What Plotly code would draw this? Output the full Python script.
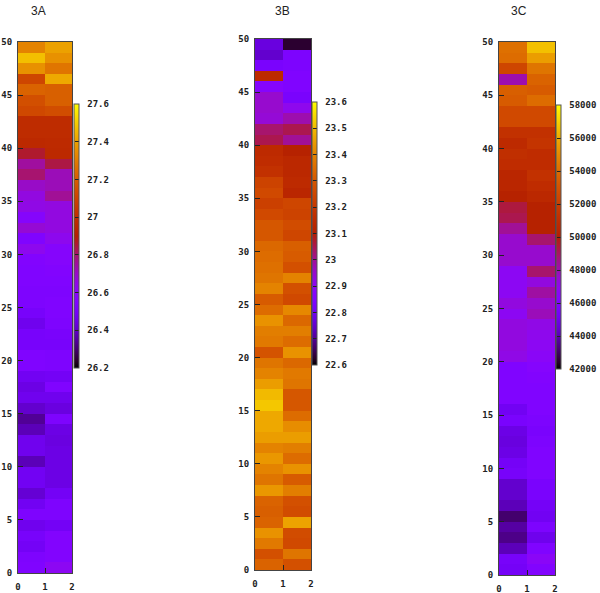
import math
import plotly.graph_objects as go

# rows listed from top (49-50) to bottom (0-1)
a_col0 = [27.32,27.47,27.36,27.11,27.22,27.15,27.12,26.98,26.98,26.96,26.86,26.75,26.80,26.70,26.66,26.65,26.58,26.68,26.55,26.63,26.56,26.55,26.55,26.54,26.54,
          26.51,26.47,26.51,26.51,26.55,26.55,26.48,26.45,26.47,26.41,26.34,26.38,26.47,26.47,26.38,26.48,26.48,26.42,26.48,26.54,26.47,26.51,26.49,26.54,26.55]
a_col1 = [27.40,27.36,27.28,27.42,27.21,27.21,27.14,26.98,26.98,26.97,26.96,26.84,26.72,26.72,26.76,26.66,26.66,26.66,26.63,26.58,26.58,26.56,26.55,26.54,26.55,
          26.55,26.54,26.52,26.51,26.54,26.54,26.49,26.55,26.47,26.44,26.54,26.45,26.44,26.45,26.45,26.45,26.45,26.49,26.54,26.54,26.49,26.56,26.56,26.56,26.62]
b_col0 = [22.77,22.75,22.83,23.15,22.87,22.95,22.95,22.94,23.03,23.05,23.15,23.16,23.18,23.24,23.26,23.23,23.26,23.30,23.30,23.34,23.35,23.36,23.37,23.40,23.31,
          23.35,23.43,23.39,23.38,23.29,23.37,23.40,23.45,23.50,23.52,23.47,23.47,23.45,23.40,23.44,23.40,23.37,23.44,23.33,23.32,23.33,23.43,23.38,23.28,23.33]
b_col1 = [22.63,22.84,22.84,22.85,22.85,22.83,22.91,22.98,23.05,23.00,23.11,23.14,23.14,23.15,23.13,23.25,23.24,23.27,23.25,23.32,23.31,23.28,23.40,23.28,23.26,
          23.41,23.34,23.39,23.35,23.43,23.34,23.38,23.37,23.30,23.30,23.35,23.42,23.45,23.39,23.35,23.43,23.31,23.39,23.28,23.27,23.46,23.27,23.26,23.37,23.28]
c_col0 = [54160,54000,52400,48080,53520,53360,52560,52560,51280,50800,51120,50960,50480,50480,50160,49360,49200,48400,47600,47600,47600,46800,46800,46800,47280,
          46800,47280,47280,47280,47120,46000,46000,46000,46000,45200,45680,44880,44720,44880,45360,45520,44400,44400,44080,43120,43760,43440,44080,45520,45360]
c_col1 = [56560,55600,54320,53680,53360,54000,52560,52560,51280,51440,50960,50960,51280,50960,50640,50160,50160,50160,48880,47600,47600,48880,47280,48240,47600,
          47920,47120,46960,46800,46640,46320,46160,46000,46000,46000,45840,45680,45840,46000,46000,46000,45680,45680,45360,45200,45840,45040,46000,46640,46160]

titles = ["3A", "3B", "3C"]
columns = [0.5, 1.5]
rows = [49.5 - i for i in range(50)]
y_ticks = [0, 5, 10, 15, 20, 25, 30, 35, 40, 45, 50]
x_ticks = [0, 1, 2]
cb_ticks_a = [26.2, 26.4, 26.6, 26.8, 27, 27.2, 27.4, 27.6]
cb_labels_a = ["26.2", "26.4", "26.6", "26.8", "27", "27.2", "27.4", "27.6"]
cb_ticks_b = [22.6, 22.7, 22.8, 22.9, 23, 23.1, 23.2, 23.3, 23.4, 23.5, 23.6]
cb_labels_b = ["22.6", "22.7", "22.8", "22.9", "23", "23.1", "23.2", "23.3", "23.4", "23.5", "23.6"]
cb_ticks_c = [42000, 44000, 46000, 48000, 50000, 52000, 54000, 56000, 58000]
cb_labels_c = [str(v) for v in cb_ticks_c]

W, H = 600, 593
FONT = dict(family="DejaVu Sans Mono", size=9, color="#222222", weight="bold")


def palette():
    out = []
    for i in range(41):
        t = i / 40
        r = math.sqrt(t)
        g = t ** 3
        b = max(0.0, math.sin(2 * math.pi * t))
        out.append([t, f"rgb({round(r*255)},{round(g*255)},{round(b*255)})"])
    return out


panels = [
    dict(z=[a_col0, a_col1], cb=(cb_ticks_a, cb_labels_a), box=(18, 72, 42, 573), bar=(74, 104, 368), title=(38, 11)),
    dict(z=[b_col0, b_col1], cb=(cb_ticks_b, cb_labels_b), box=(255, 311, 39, 570), bar=(312, 102, 365), title=(282, 11)),
    dict(z=[c_col0, c_col1], cb=(cb_ticks_c, cb_labels_c), box=(499, 555, 42, 575), bar=(556, 105, 369), title=(519, 11)),
]

fig = go.Figure()
layout = {}
annotations = []
for i, (p, name) in enumerate(zip(panels, titles)):
    n = "" if i == 0 else str(i + 1)
    x0, x1, y0, y1 = p["box"]
    bx, by0, by1 = p["bar"]
    ticks, labels = p["cb"]
    z = [[p["z"][0][r], p["z"][1][r]] for r in range(50)]
    fig.add_trace(go.Heatmap(
        x=columns, y=rows, z=z, xaxis=f"x{n}", yaxis=f"y{n}",
        colorscale=palette(), zmin=ticks[0], zmax=ticks[-1],
        colorbar=dict(
            x=bx / W, xanchor="left", xpad=0, ypad=0,
            y=1 - (by0 + by1) / 2 / H, yanchor="middle",
            thickness=5, thicknessmode="pixels",
            len=by1 - by0, lenmode="pixels",
            tickvals=ticks, ticktext=["\u00a0" + t for t in labels],
            ticks="inside", ticklen=4, tickwidth=1, tickcolor="#222222",
            tickfont=FONT, outlinewidth=1, outlinecolor="#555555", borderwidth=0,
        ),
    ))
    layout[f"xaxis{n}"] = dict(
        domain=[x0 / W, x1 / W], range=[0, 2], tickvals=x_ticks, ticks="inside", ticklen=5,
        ticklabelstandoff=5,
        tickcolor="#222222", tickfont=FONT, showgrid=False, zeroline=False, mirror=True,
        showline=True, linecolor="#444444", linewidth=1, anchor=f"y{n}", fixedrange=True,
    )
    layout[f"yaxis{n}"] = dict(
        domain=[1 - y1 / H, 1 - y0 / H], range=[0, 50], tickvals=y_ticks, ticks="inside", ticklen=5,
        ticklabelstandoff=3,
        tickcolor="#222222", tickfont=FONT, showgrid=False, zeroline=False, mirror=True,
        showline=True, linecolor="#444444", linewidth=1, anchor=f"x{n}", fixedrange=True,
    )
    annotations.append(dict(
        x=p["title"][0] / W, y=1 - p["title"][1] / H, xref="paper", yref="paper",
        text=name, showarrow=False, xanchor="center", yanchor="middle",
        font=dict(family="Liberation Sans", size=12, color="#222222"),
    ))

fig.update_layout(
    width=W, height=H, margin=dict(l=0, r=0, t=0, b=0, autoexpand=False), autosize=False,
    paper_bgcolor="white", plot_bgcolor="white", showlegend=False,
    annotations=annotations, **layout,
)
fig.write_html(
    "out.html", config=dict(displayModeBar=False),
    post_script="document.body.style.margin='0';document.body.style.overflow='hidden';",
)
